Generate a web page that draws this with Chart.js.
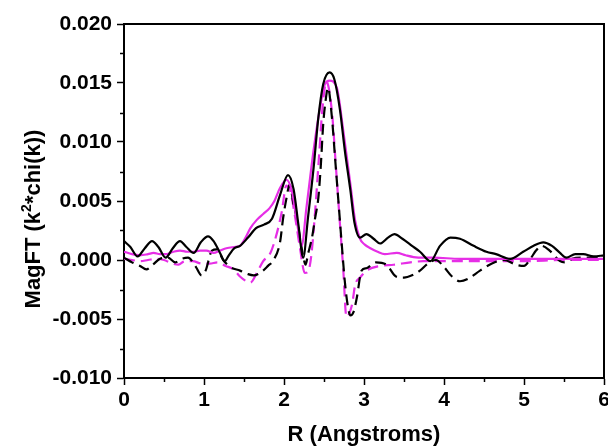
<!DOCTYPE html>
<html lang="en">
<head>
<meta charset="UTF-8">
<title>MagFT vs R</title>
<style>
  body { margin: 0; background: #fff; }
  #wrap { width: 608px; height: 448px; }
</style>
<script src="https://cdn.jsdelivr.net/npm/chart.js"></script>
</head>
<body>
<div id="wrap"><canvas id="ftChart" width="608" height="448"></canvas></div>
<script>
    // |chi(R)| and Re[chi(R)] for two samples (black, magenta)
    const rBlackMag = [0, 0.08, 0.17, 0.26, 0.35, 0.43, 0.52, 0.61, 0.70, 0.78, 0.87, 0.96, 1.05, 1.12, 1.20, 1.26, 1.31, 1.38, 1.45, 1.55, 1.65, 1.75, 1.85, 1.95, 2.05, 2.12, 2.18, 2.24, 2.30, 2.37, 2.43, 2.49, 2.57, 2.63, 2.70, 2.76, 2.83, 2.88, 2.95, 3.03, 3.12, 3.20, 3.30, 3.38, 3.48, 3.60, 3.70, 3.83, 3.95, 4.08, 4.20, 4.37, 4.53, 4.65, 4.83, 4.99, 5.12, 5.24, 5.35, 5.45, 5.53, 5.64, 5.74, 5.87, 6.0];
    const blackMag  = [0.0016, 0.0011, 0.0003, 0.0010, 0.0016, 0.0011, 0.0002, 0.0010, 0.0016, 0.0011, 0.0006, 0.0015, 0.0020, 0.0016, 0.0006, -0.0001, 0.0004, 0.0010, 0.0012, 0.0019, 0.0027, 0.0030, 0.0035, 0.0055, 0.0072, 0.0060, 0.0030, 0.0002, 0.0036, 0.0078, 0.0121, 0.0149, 0.0159, 0.0153, 0.0127, 0.0093, 0.0059, 0.0032, 0.0019, 0.0022, 0.0018, 0.0014, 0.0019, 0.0022, 0.0018, 0.0012, 0.0007, -0.0001, 0.0012, 0.0019, 0.0018, 0.0012, 0.0007, 0.0005, 0.0001, 0.0007, 0.0012, 0.0015, 0.0012, 0.0006, 0.0002, 0.0005, 0.0005, 0.0003, 0.0004];

    const rBlackRe = [0, 0.1, 0.2, 0.28, 0.36, 0.45, 0.55, 0.64, 0.72, 0.8, 0.9, 0.97, 1.02, 1.1, 1.16, 1.24, 1.33, 1.45, 1.55, 1.62, 1.72, 1.8, 1.87, 1.95, 1.99, 2.03, 2.07, 2.12, 2.16, 2.2, 2.24, 2.27, 2.3, 2.35, 2.39, 2.43, 2.46, 2.49, 2.52, 2.55, 2.6, 2.64, 2.68, 2.72, 2.76, 2.8, 2.83, 2.87, 2.91, 2.97, 3.03, 3.15, 3.28, 3.4, 3.5, 3.6, 3.7, 3.8, 3.9, 4.0, 4.1, 4.2, 4.3, 4.45, 4.6, 4.75, 4.9, 5.0, 5.08, 5.15, 5.22, 5.32, 5.45, 5.52, 5.6, 5.75, 6.0];
    const blackRe  = [0.0002, -0.0002, -0.0005, -0.0008, -0.0004, 0.0001, 0.0002, -0.0002, 0.0001, 0.0002, -0.0006, -0.0013, -0.0009, 0.0008, 0.0009, 0.0000, -0.0006, -0.0009, -0.0012, -0.0013, -0.0010, -0.0005, 0.0000, 0.0015, 0.0036, 0.0052, 0.0064, 0.0047, 0.0035, 0.0019, 0.0003, -0.0004, 0.0005, 0.0019, 0.0036, 0.0053, 0.0080, 0.0115, 0.0135, 0.0146, 0.0120, 0.0085, 0.0050, 0.0015, -0.0018, -0.0040, -0.0047, -0.0044, -0.0032, -0.0009, -0.0007, -0.0002, -0.0004, -0.0014, -0.0015, -0.0013, -0.0009, -0.0003, 0.0000, -0.0006, -0.0014, -0.0018, -0.0016, -0.0009, -0.0003, 0.0000, -0.0004, -0.0005, 0.0001, 0.0008, 0.0012, 0.0008, -0.0001, -0.0002, 0.0001, 0.0002, 0.0002];

    const rPinkMag = [0, 0.1, 0.2, 0.3, 0.37, 0.45, 0.53, 0.62, 0.7, 0.79, 0.87, 0.95, 1.03, 1.12, 1.2, 1.28, 1.38, 1.45, 1.52, 1.58, 1.66, 1.74, 1.82, 1.88, 1.95, 2.03, 2.1, 2.16, 2.22, 2.28, 2.37, 2.45, 2.51, 2.57, 2.66, 2.74, 2.83, 2.89, 2.95, 3.01, 3.08, 3.17, 3.26, 3.41, 3.52, 3.62, 3.75, 3.87, 4.2, 4.6, 5.0, 5.5, 6.0];
    const pinkMag  = [0.0007, 0.0005, 0.0004, 0.0005, 0.0006, 0.0005, 0.0005, 0.0007, 0.0008, 0.0007, 0.0007, 0.0008, 0.0008, 0.0006, 0.0008, 0.0010, 0.0011, 0.0012, 0.0019, 0.0027, 0.0034, 0.0039, 0.0044, 0.0050, 0.0061, 0.0068, 0.0058, 0.0033, 0.0012, 0.0044, 0.0093, 0.0129, 0.0149, 0.0152, 0.0146, 0.0110, 0.0064, 0.0033, 0.0018, 0.0013, 0.0010, 0.0007, 0.0005, 0.0006, 0.0004, 0.00025, 0.0002, 0.0002, 0.0001, 0.0001, 0.0001, 0.0001, 0.0001];

    const rPinkRe = [0, 0.1, 0.2, 0.3, 0.4, 0.5, 0.6, 0.68, 0.76, 0.86, 0.97, 1.07, 1.17, 1.27, 1.37, 1.45, 1.53, 1.58, 1.66, 1.74, 1.83, 1.9, 1.97, 2.03, 2.08, 2.14, 2.2, 2.26, 2.3, 2.34, 2.39, 2.44, 2.48, 2.53, 2.6, 2.65, 2.7, 2.74, 2.78, 2.85, 2.89, 2.95, 3.03, 3.2, 3.37, 3.58, 3.74, 4.0, 4.5, 5.0, 5.5, 6.0];
    const pinkRe  = [0.0001, 0.0000, -0.0001, 0.0000, 0.0001, 0.0000, -0.0003, -0.0004, -0.0001, -0.0001, -0.0003, -0.0003, -0.0002, -0.0005, -0.0008, -0.0014, -0.0018, -0.0019, -0.0011, -0.0001, 0.0006, 0.0020, 0.0040, 0.0063, 0.0058, 0.0036, 0.0010, -0.0011, -0.0010, 0.0003, 0.0042, 0.0090, 0.0128, 0.0151, 0.0125, 0.0078, 0.0030, -0.0007, -0.0048, -0.0038, -0.0021, -0.0015, -0.0009, -0.0005, -0.0004, -0.0002, -0.0001, -0.0001, -0.0001, -0.0001, 0.0000, 0.0000];

    const xTicks = [0, 1, 2, 3, 4, 5, 6];
    const yTicks = [-0.010, -0.005, 0.000, 0.005, 0.010, 0.015, 0.020];

    const BLACK = '#000000';
    const PINK = '#e62ee6';
    const FONT = "'Liberation Sans', Arial, sans-serif";

    function toPoints(xs, ys) {
        return xs.map((x, i) => ({ x: x, y: ys[i] }));
    }

    function series(xs, ys, color, dashed) {
        return {
            data: toPoints(xs, ys),
            borderColor: color,
            borderWidth: 2.2,
            borderDash: dashed ? [11, 6] : [],
            pointRadius: 0,
            fill: false,
            cubicInterpolationMode: 'monotone'
        };
    }

    // box frame, half-step minor ticks and the y title with a real superscript
    const framePlugin = {
        id: 'frame',
        afterDraw(chart) {
            const { ctx, chartArea: a, scales } = chart;
            ctx.save();
            ctx.strokeStyle = BLACK;
            ctx.lineWidth = 2;
            ctx.beginPath();
            ctx.moveTo(a.left, a.top);
            ctx.lineTo(a.right, a.top);
            ctx.lineTo(a.right, a.bottom);
            ctx.stroke();

            ctx.lineWidth = 1.5;
            ctx.beginPath();
            for (let i = 0; i < xTicks.length - 1; i++) {
                const px = Math.round(scales.x.getPixelForValue((xTicks[i] + xTicks[i + 1]) / 2)) + 0.5;
                ctx.moveTo(px, a.bottom);
                ctx.lineTo(px, a.bottom + 4);
            }
            for (let i = 0; i < yTicks.length - 1; i++) {
                const py = Math.round(scales.y.getPixelForValue((yTicks[i] + yTicks[i + 1]) / 2)) + 0.5;
                ctx.moveTo(a.left, py);
                ctx.lineTo(a.left - 4, py);
            }
            ctx.stroke();

            // MagFT (k^2*chi(k)), rotated
            const big = 'bold 22px ' + FONT;
            const small = 'bold 14px ' + FONT;
            const parts = [['MagFT (k', big, 0], ['2', small, -9], ['*chi(k))', big, 0]];
            let total = 0;
            parts.forEach(p => { ctx.font = p[1]; total += ctx.measureText(p[0]).width; });
            ctx.translate(40, 219);
            ctx.rotate(-Math.PI / 2);
            ctx.fillStyle = BLACK;
            ctx.textBaseline = 'alphabetic';
            let x = -total / 2;
            parts.forEach(p => {
                ctx.font = p[1];
                ctx.fillText(p[0], x, p[2]);
                x += ctx.measureText(p[0]).width;
            });
            ctx.restore();
        }
    };

    new Chart(document.getElementById('ftChart'), {
        type: 'line',
        data: {
            datasets: [
                series(rBlackMag, blackMag, BLACK, false),
                series(rPinkMag, pinkMag, PINK, false),
                series(rBlackRe, blackRe, BLACK, true),
                series(rPinkRe, pinkRe, PINK, true)
            ]
        },
        options: {
            responsive: false,
            animation: false,
            layout: { padding: { top: 24, right: 4, left: 0, bottom: 0 } },
            plugins: { legend: { display: false }, tooltip: { enabled: false } },
            scales: {
                x: {
                    type: 'linear',
                    min: 0,
                    max: 6,
                    afterBuildTicks: s => { s.ticks = xTicks.map(v => ({ value: v })); },
                    afterFit: s => { s.height = 70; s.paddingLeft = 0; s.paddingRight = 0; },
                    border: { color: BLACK, width: 2 },
                    grid: { drawOnChartArea: false, tickLength: 7, tickColor: BLACK, tickWidth: 1.5 },
                    ticks: {
                        color: BLACK,
                        padding: 3,
                        maxRotation: 0,
                        font: { family: FONT, size: 21, weight: 'bold' },
                        callback: v => String(v)
                    },
                    title: {
                        display: true,
                        text: 'R (Angstroms)',
                        color: BLACK,
                        padding: { top: 0, bottom: 0 },
                        font: { family: FONT, size: 22, weight: 'bold' }
                    }
                },
                y: {
                    type: 'linear',
                    min: -0.010,
                    max: 0.020,
                    afterBuildTicks: s => { s.ticks = yTicks.map(v => ({ value: v })); },
                    afterFit: s => { s.width = 124; s.paddingTop = 0; s.paddingBottom = 0; },
                    border: { color: BLACK, width: 2 },
                    grid: { drawOnChartArea: false, tickLength: 7, tickColor: BLACK, tickWidth: 1.5 },
                    ticks: {
                        color: BLACK,
                        padding: 5,
                        font: { family: FONT, size: 21, weight: 'bold' },
                        callback: v => (Math.abs(v) < 1e-9 ? 0 : v).toFixed(3)
                    }
                }
            }
        },
        plugins: [framePlugin]
    });
</script>
</body>
</html>
